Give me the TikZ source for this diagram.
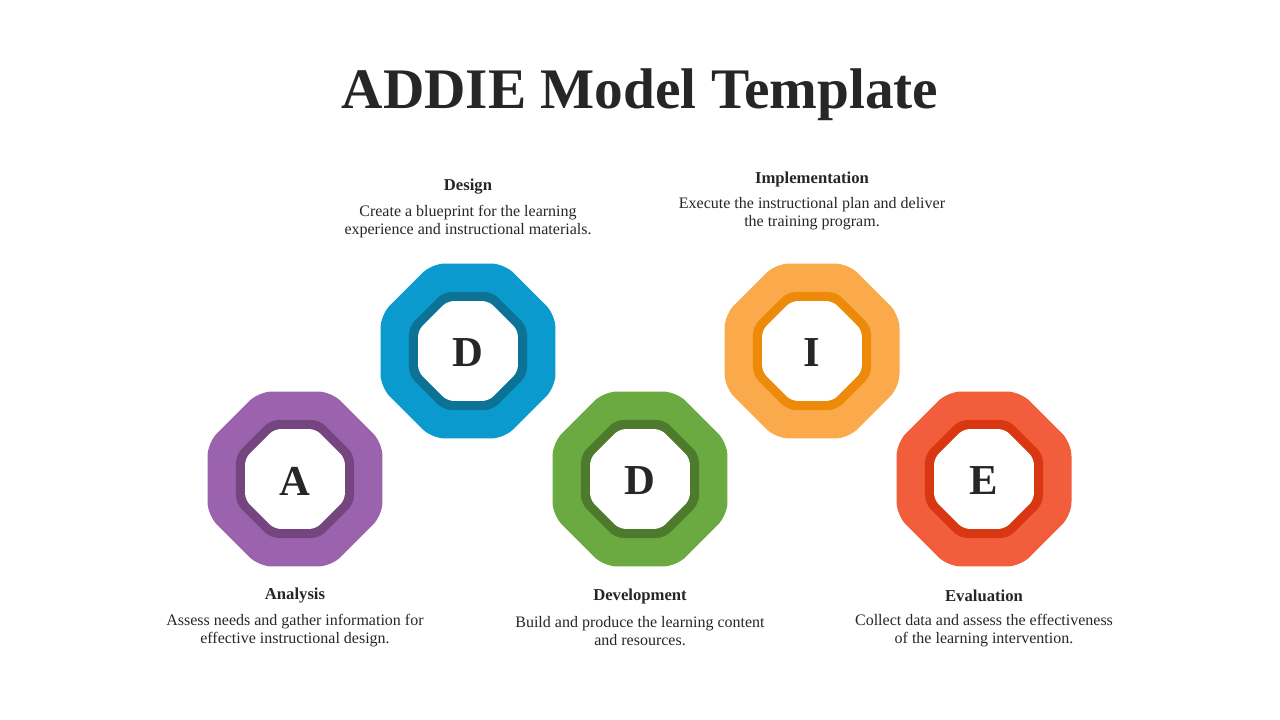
\documentclass[tikz,border=0pt]{standalone}
\usepackage{fontspec}
\setmainfont{Liberation Serif}
\begin{document}
\begin{tikzpicture}[x=0.75pt,y=-0.75pt]
\useasboundingbox (0,0) rectangle (1280,720);
\definecolor{tx}{HTML}{262626}
\definecolor{pL}{HTML}{9B63AD}\definecolor{pD}{HTML}{74457F}
\definecolor{bL}{HTML}{0B9ACD}\definecolor{bD}{HTML}{0C7396}
\definecolor{gL}{HTML}{6AAA40}\definecolor{gD}{HTML}{4D7B2E}
\definecolor{oL}{HTML}{FBAA4B}\definecolor{oD}{HTML}{EE8A0A}
\definecolor{rL}{HTML}{F25E3C}\definecolor{rD}{HTML}{D83712}
\tikzset{
 ttl/.style={font=\fontsize{12.5}{14}\selectfont\bfseries,text=tx},
 body/.style={font=\fontsize{12}{13.5}\selectfont,text=tx,align=center},
 letter/.style={font=\fontsize{32}{36}\selectfont\bfseries,text=tx}}
\newcommand\oct[4]{% x,y,R,color/rc
 \fill[#4] (#1,#2) +(22.5:#3) -- +(67.5:#3) -- +(112.5:#3) -- +(157.5:#3) -- +(202.5:#3) -- +(247.5:#3) -- +(292.5:#3) -- +(337.5:#3) -- cycle;}
\newcommand\octo[6]{% name, x,y, light, dark, letter
 \oct{#2}{#3}{94.7}{#4,rounded corners=10}
 \oct{#2}{#3}{63.9}{#5,rounded corners=6}
 \oct{#2}{#3}{54.1}{white,rounded corners=5}
 \node[letter] (#1) at (#2,#3+2) {#6};}
\octo{a}{295}{479}{pL}{pD}{A}
\octo{d}{468}{351}{bL}{bD}{D}
\octo{v}{640}{479}{gL}{gD}{D}
\octo{i}{812}{351}{oL}{oD}{I}
\octo{e}{984}{479}{rL}{rD}{E}
\node[font=\fontsize{43}{48}\selectfont\bfseries,text=tx] (title) at (640,95) {ADDIE Model Template};
\node[ttl] (at) at (295,596) {Analysis};
\node[body] (ab) at (295,631) {Assess needs and gather information for\\effective instructional design.};
\node[ttl] (dt) at (468,187) {Design};
\node[body] (db) at (468,222) {Create a blueprint for the learning\\experience and instructional materials.};
\node[ttl] (vt) at (640,596) {Development};
\node[body] (vb) at (640,631) {Build and produce the learning content\\and resources.};
\node[ttl] (it) at (812,179) {Implementation};
\node[body] (ib) at (812,214) {Execute the instructional plan and deliver\\the training program.};
\node[ttl] (et) at (984,596) {Evaluation};
\node[body] (eb) at (984,631) {Collect data and assess the effectiveness\\of the learning intervention.};
\end{tikzpicture}
\end{document}
